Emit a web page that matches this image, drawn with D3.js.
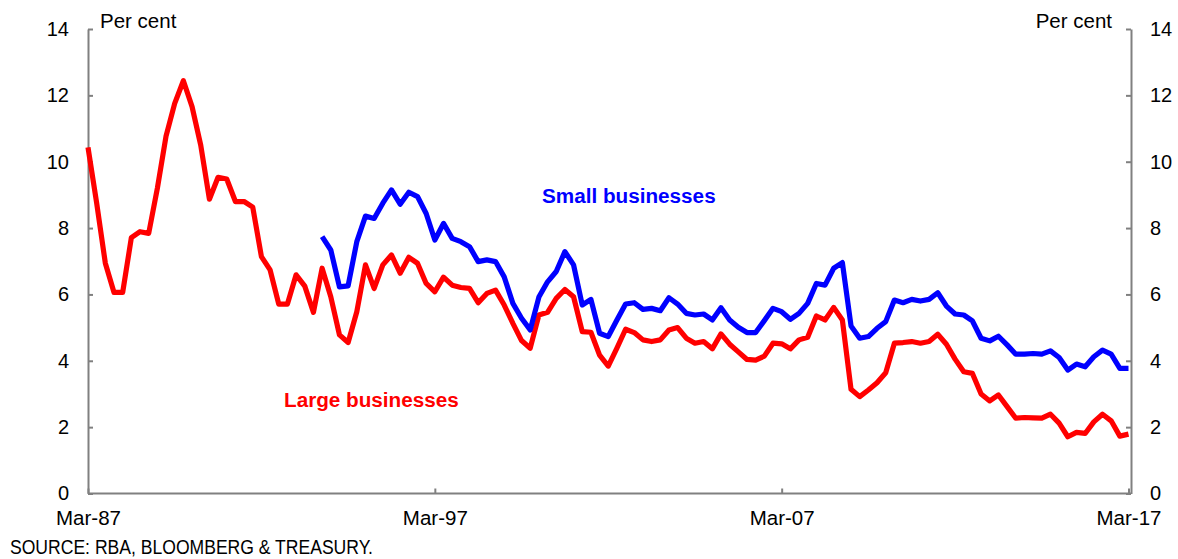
<!DOCTYPE html>
<html><head><meta charset="utf-8">
<script src="https://cdn.jsdelivr.net/npm/d3@7"></script>
<style>
html,body{margin:0;padding:0;background:#fff;}
text{font-family:"Liberation Sans",Arial,sans-serif;}
</style></head>
<body><svg id="c" width="1178" height="559"></svg>
<script>
// Quarterly categories Mar-87 .. Mar-17
const months = ["Mar","Jun","Sep","Dec"];
const categories = [];
for (let y = 1987; y <= 2017; y++) for (let q = 0; q < 4; q++) {
  if (y === 2017 && q > 0) break;
  categories.push(months[q] + "-" + String(y % 100).padStart(2, "0"));
}
const tickLabels = ["Mar-87","Mar-97","Mar-07","Mar-17"];
const yTicks = [0,2,4,6,8,10,12,14];

const largeBusinesses = [
10.43,8.75,6.94,6.06,6.06,7.71,7.89,7.84,9.2,10.77,
11.76,12.44,11.66,10.5,8.87,9.53,9.48,8.8,8.8,8.63,
7.14,6.74,5.71,5.71,6.59,6.25,5.46,6.79,5.93,4.78,
4.55,5.48,6.89,6.18,6.89,7.19,6.64,7.12,6.94,6.33,
6.08,6.52,6.28,6.21,6.18,5.75,6.03,6.13,5.68,5.13,
4.61,4.38,5.38,5.46,5.88,6.15,5.93,4.88,4.86,4.17,
3.84,4.38,4.95,4.85,4.63,4.58,4.63,4.93,5.0,4.68,
4.53,4.58,4.36,4.81,4.5,4.27,4.04,4.02,4.14,4.53,
4.51,4.36,4.63,4.71,5.35,5.23,5.61,5.23,3.14,2.92,
3.12,3.34,3.64,4.53,4.55,4.58,4.53,4.58,4.8,4.5,
4.05,3.67,3.62,3.0,2.79,2.97,2.62,2.27,2.29,2.28,
2.27,2.39,2.12,1.71,1.84,1.81,2.16,2.39,2.19,1.73,
1.79];

const smallBusinesses = [
null,null,null,null,null,null,null,null,null,null,
null,null,null,null,null,null,null,null,null,null,
null,null,null,null,null,null,null,7.74,7.34,6.23,
6.26,7.59,8.36,8.29,8.75,9.15,8.72,9.08,8.95,8.44,
7.64,8.14,7.69,7.59,7.44,6.99,7.04,6.99,6.53,5.73,
5.28,4.93,5.92,6.38,6.69,7.29,6.89,5.68,5.85,4.83,
4.73,5.23,5.71,5.75,5.55,5.58,5.51,5.9,5.71,5.43,
5.38,5.41,5.23,5.6,5.23,5.01,4.85,4.85,5.21,5.58,
5.48,5.25,5.43,5.73,6.33,6.28,6.79,6.96,5.05,4.68,
4.73,4.98,5.18,5.83,5.75,5.85,5.8,5.85,6.05,5.65,
5.41,5.38,5.2,4.68,4.6,4.74,4.48,4.2,4.2,4.22,
4.2,4.3,4.1,3.72,3.9,3.82,4.12,4.32,4.2,3.77,
3.77];

const svg = d3.select("#c");
const L = 88, R = 1131, T = 29, B = 493.5;
const x = d3.scalePoint().domain(categories).range([L, 1128.5]);
const y = d3.scaleLinear().domain([0,14]).range([B, T]);
const grey = "#808080";

// axes
const xAxis = svg.append("g").attr("transform", `translate(0,${B})`)
  .call(d3.axisBottom(x).tickValues(tickLabels).tickSizeInner(-5).tickSizeOuter(0).tickPadding(17));
xAxis.select(".domain").remove();
xAxis.selectAll(".tick line").attr("stroke", grey).attr("stroke-width", 2);
xAxis.selectAll(".tick text").attr("font-size", 20.5).attr("fill", "#000")
  .attr("font-family", "Liberation Sans, Arial, sans-serif");

svg.append("line").attr("x1", L).attr("x2", R).attr("y1", B).attr("y2", B)
  .attr("stroke", grey).attr("stroke-width", 2);

const yl = svg.append("g").attr("transform", `translate(${L},0)`)
  .call(d3.axisLeft(y).tickValues(yTicks).tickSizeInner(-5).tickSizeOuter(0).tickPadding(19));
const yr = svg.append("g").attr("transform", `translate(${R},0)`)
  .call(d3.axisRight(y).tickValues(yTicks).tickSizeInner(-5).tickSizeOuter(0).tickPadding(19));
[yl, yr].forEach(g => {
  g.select(".domain").attr("stroke", grey).attr("stroke-width", 2);
  g.selectAll(".tick line").attr("stroke", grey).attr("stroke-width", 2);
  g.selectAll(".tick text").attr("font-size", 20).attr("fill", "#000")
    .attr("font-family", "Liberation Sans, Arial, sans-serif");
});

// lines
const line = d3.line().defined(d => d.v != null).x(d => x(d.c)).y(d => y(d.v));
const series = [
  {vals: largeBusinesses, color: "#ff0000"},
  {vals: smallBusinesses, color: "#0000ff"}
];
series.forEach(s => {
  svg.append("path")
    .datum(categories.map((c, i) => ({c, v: s.vals[i]})))
    .attr("d", line).attr("fill", "none").attr("stroke", s.color)
    .attr("stroke-width", 5.2).attr("stroke-linejoin", "round");
});

// texts
svg.append("text").attr("x", 100).attr("y", 28).attr("font-size", 20.5).text("Per cent");
svg.append("text").attr("x", 1112).attr("y", 28).attr("font-size", 20.5)
  .attr("text-anchor", "end").text("Per cent");
svg.append("text").attr("x", 542).attr("y", 203).attr("font-size", 20.7)
  .attr("font-weight", "bold").attr("fill", "#0000ff").text("Small businesses");
svg.append("text").attr("x", 284).attr("y", 407).attr("font-size", 20.7)
  .attr("font-weight", "bold").attr("fill", "#ff0000").text("Large businesses");
svg.append("text").attr("x", 10).attr("y", 554).attr("font-size", 20)
  .attr("textLength", 363).attr("lengthAdjust", "spacingAndGlyphs")
  .text("SOURCE: RBA, BLOOMBERG & TREASURY.");
</script></body></html>
